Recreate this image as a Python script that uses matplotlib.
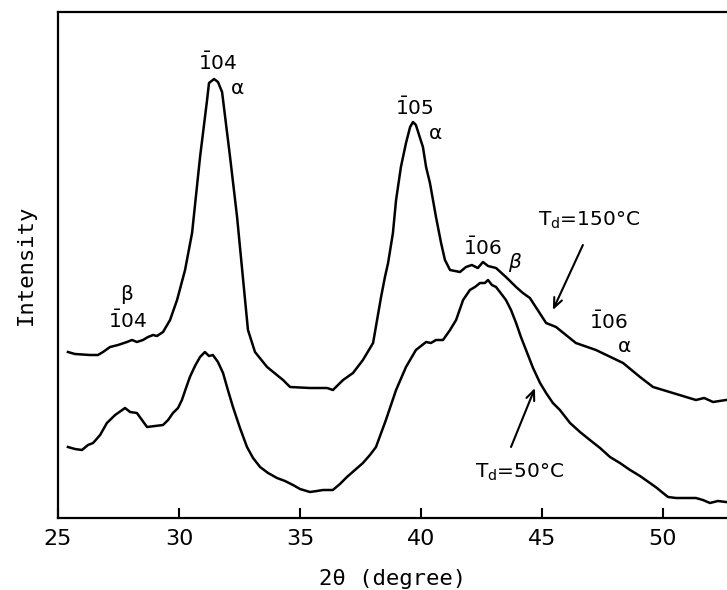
import matplotlib
matplotlib.use("Agg")
import matplotlib.pyplot as plt

# ---- data (2theta in degrees, intensity in arbitrary units) ----
td150_x = [25.41, 25.70, 26.32, 26.65, 26.86, 27.15, 27.48, 27.85, 28.06, 28.26, 28.51, 28.72,
           28.93, 29.09, 29.34, 29.63, 29.92, 30.25, 30.54, 30.87, 31.16, 31.24, 31.45, 31.61,
           31.78, 32.11, 32.40, 32.73, 32.85, 33.14, 33.64, 34.30, 34.59, 35.41, 36.12, 36.36,
           36.78, 37.19, 37.60, 38.02, 38.35, 38.51, 38.64, 38.84, 38.97, 39.17, 39.38, 39.55,
           39.67, 39.79, 39.96, 40.08, 40.21, 40.37, 40.62, 40.83, 40.99, 41.20, 41.61, 41.86,
           42.10, 42.35, 42.56, 42.77, 43.10, 43.51, 43.93, 44.21, 44.50, 45.17, 45.58, 46.40,
           47.23, 48.35, 49.05, 49.59, 50.41, 51.36, 51.70, 52.07, 52.60]
td150_y = [166, 164, 163, 163, 166, 171, 173, 176, 178, 176, 178, 181,
           183, 182, 186, 198, 218, 248, 285, 361, 418, 435, 439, 436,
           426, 361, 301, 218, 188, 166, 151, 138, 131, 130, 130, 128,
           138, 145, 158, 175, 221, 241, 255, 285, 318, 351, 375, 391,
           396, 393, 380, 371, 351, 335, 301, 275, 258, 248, 246, 251,
           253, 250, 256, 252, 250, 241, 231, 225, 220, 195, 191, 175,
           168, 155, 141, 131, 125, 118, 120, 116, 118]

td50_x = [25.41, 25.70, 25.99, 26.24, 26.45, 26.74, 27.02, 27.36, 27.77, 27.98, 28.26, 28.47,
          28.68, 29.01, 29.34, 29.55, 29.75, 29.96, 30.12, 30.29, 30.45, 30.66, 30.87, 31.07,
          31.24, 31.40, 31.61, 31.82, 32.02, 32.23, 32.52, 32.81, 33.06, 33.35, 33.68, 34.05,
          34.38, 34.71, 35.00, 35.41, 35.70, 35.95, 36.36, 36.65, 36.94, 37.27, 37.60, 37.89,
          38.14, 38.55, 38.97, 39.38, 39.79, 40.00, 40.21, 40.41, 40.62, 40.91, 41.20, 41.45,
          41.74, 42.02, 42.23, 42.44, 42.64, 42.77, 42.93, 43.10, 43.26, 43.51, 43.72, 43.93,
          44.13, 44.34, 44.63, 44.92, 45.17, 45.45, 45.74, 46.16, 46.57, 46.98, 47.40, 47.81,
          48.22, 48.64, 49.05, 49.46, 49.75, 50.00, 50.21, 50.54, 50.95, 51.36, 51.65, 51.94,
          52.27, 52.60]
td50_y = [71, 69, 68, 73, 75, 83, 95, 103, 110, 106, 105, 98,
          91, 92, 93, 98, 105, 110, 118, 130, 141, 152, 161, 166,
          162, 163, 156, 145, 128, 111, 90, 71, 60, 51, 45, 40,
          37, 33, 29, 26, 27, 28, 28, 34, 41, 48, 55, 63,
          71, 98, 128, 151, 168, 172, 176, 175, 178, 178, 188, 198,
          218, 228, 231, 235, 235, 238, 233, 231, 226, 218, 208, 195,
          181, 168, 150, 135, 125, 115, 108, 95, 86, 78, 70, 61,
          55, 48, 42, 35, 30, 25, 21, 20, 20, 20, 18, 15,
          17, 16]

xticks = [25, 30, 35, 40, 45, 50]

# ---- figure ----
plt.rcParams['mathtext.fontset'] = 'dejavusans'
fig = plt.figure(figsize=(7.27, 5.90), dpi=100)
ax = fig.add_axes([58/727, 72/590, 669/727, 506/590])

ax.plot(td150_x, td150_y, color='black', lw=1.8, solid_joinstyle='round')
ax.plot(td50_x, td50_y, color='black', lw=1.8, solid_joinstyle='round')

ax.set_xlim(25, 52.645)
ax.set_ylim(0, 506)
ax.spines['right'].set_visible(False)
for s in ['left', 'top', 'bottom']:
    ax.spines[s].set_linewidth(1.6)

ax.set_xticks(xticks)
ax.set_xticklabels([str(t) for t in xticks])
ax.set_yticks([])
ax.tick_params(axis='x', direction='in', length=7.5, width=1.5, pad=8, labelsize=16)

ax.set_xlabel('2θ (degree)', family='DejaVu Sans Mono', fontsize=16, labelpad=14)
ax.set_ylabel('Intensity', family='DejaVu Sans Mono', fontsize=16, labelpad=16)

fs = 14.5
ax.text(31.61, 455, r'$\bar{1}$04', fontsize=fs, ha='center', va='center')
ax.text(32.40, 430, 'α', fontsize=fs, ha='center', va='center')
ax.text(39.71, 410, r'$\bar{1}$05', fontsize=fs, ha='center', va='center')
ax.text(40.58, 385, 'α', fontsize=fs, ha='center', va='center')
ax.text(42.56, 270, r'$\bar{1}$06', fontsize=fs, ha='center', va='center')
ax.text(43.88, 255, 'β', fontsize=fs, ha='center', va='center', style='italic')
ax.text(47.73, 196, r'$\bar{1}$06', fontsize=fs, ha='center', va='center')
ax.text(48.43, 171, 'α', fontsize=fs, ha='center', va='center')
ax.text(27.85, 223, 'β', fontsize=fs, ha='center', va='center')
ax.text(27.89, 197, r'$\bar{1}$04', fontsize=fs, ha='center', va='center')

ax.text(44.83, 292, r'T$_\mathregular{d}$=150°C', fontsize=fs, ha='left', va='baseline')
ax.text(42.23, 40, r'T$_\mathregular{d}$=50°C', fontsize=fs, ha='left', va='baseline')

arrow_kw = dict(arrowstyle='->,head_length=0.7,head_width=0.3', color='black', lw=1.5,
                shrinkA=0, shrinkB=0)
ax.annotate('', xy=(45.45, 208), xytext=(46.69, 273), arrowprops=arrow_kw)
ax.annotate('', xy=(44.71, 130), xytext=(43.72, 71), arrowprops=arrow_kw)

fig.savefig('out.png', dpi=100)
